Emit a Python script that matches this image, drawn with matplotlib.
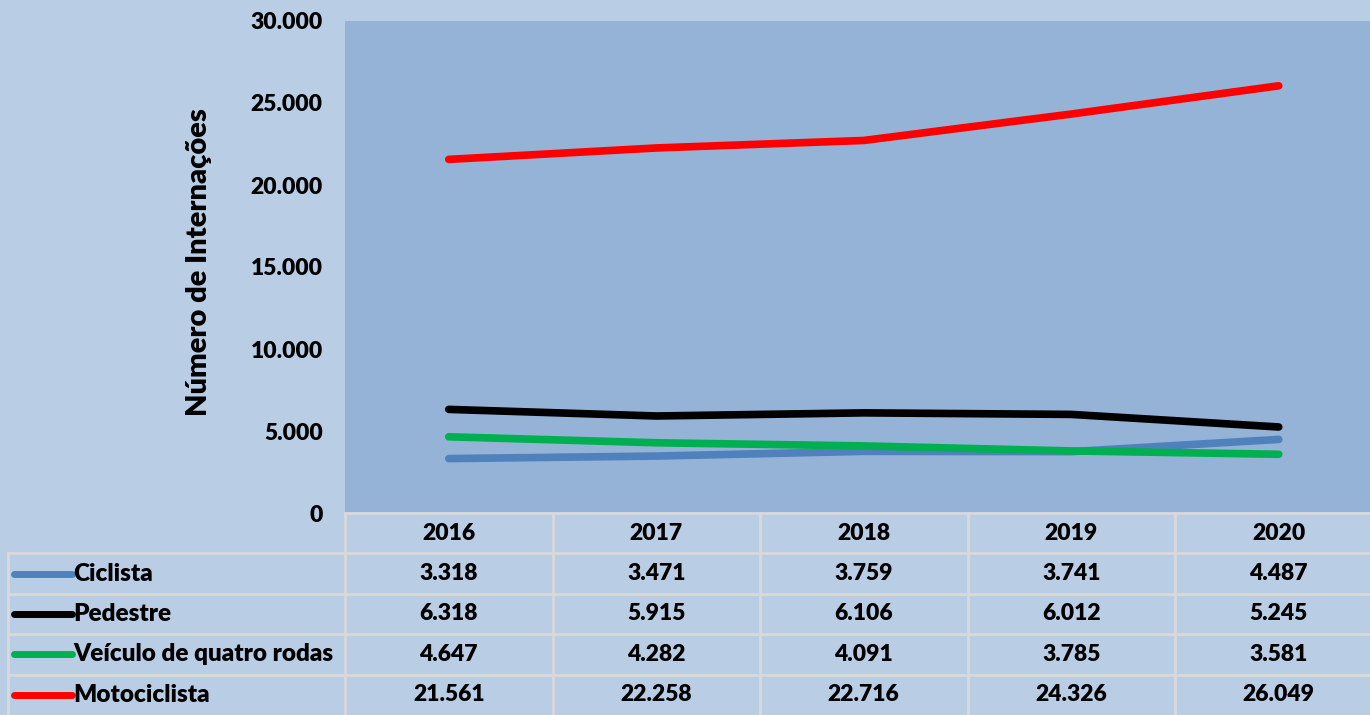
import matplotlib
matplotlib.use("Agg")
import matplotlib.pyplot as plt
import numpy as np

years = ["2016", "2017", "2018", "2019", "2020"]
series_names = ["Ciclista", "Pedestre", "Veículo de quatro rodas", "Motociclista"]
ciclista = [3318, 3471, 3759, 3741, 4487]
pedestre = [6318, 5915, 6106, 6012, 5245]
veiculo = [4647, 4282, 4091, 3785, 3581]
motociclista = [21561, 22258, 22716, 24326, 26049]
colors = ["#4f81bd", "#000000", "#00b050", "#ff0000"]
yticks = [0, 5000, 10000, 15000, 20000, 25000, 30000]

series = [ciclista, pedestre, veiculo, motociclista]

def fmt(v):
    return f"{v:,}".replace(",", ".")

plt.rcParams['font.family'] = ['Lato', 'DejaVu Sans']
plt.rcParams['font.weight'] = 'bold'

W, H = 1370, 715
fig = plt.figure(figsize=(W / 100, H / 100), dpi=100)
fig.patch.set_facecolor("#b9cde5")

NUM_FS = 16.5
NAME_FS = 17.5

colw = 207.5
left_px, top_px, bot_px = 345, 21, 513
ax = fig.add_axes([left_px / W, (H - bot_px) / H, 5 * colw / W, (bot_px - top_px) / H])
ax.set_facecolor("#95b3d7")
x = np.arange(len(years))
for s, c in zip(series, colors):
    ax.plot(x, s, color=c, lw=5.5, solid_capstyle="round", solid_joinstyle="round")
ax.set_xlim(-0.5, len(years) - 0.5)
ax.set_ylim(0, 30000)
ax.set_yticks(yticks)
ax.set_yticklabels([fmt(v) for v in yticks], fontsize=NUM_FS, fontweight="heavy")
ax.set_xticks([])
ax.tick_params(axis="y", length=0, pad=16)
for sp in ax.spines.values():
    sp.set_visible(False)
ax.set_ylabel("Número de Internações", fontsize=21, fontweight="heavy")
ax.yaxis.set_label_coords(-0.128, 0.51)

# data table axes
tleft = 8
tab = fig.add_axes([tleft / W, 0, (left_px + 5 * colw - tleft) / W, (H - bot_px) / H])
tab.set_facecolor("none")
xl = -0.5 - (left_px - tleft) / colw
tab.set_xlim(xl, len(years) - 0.5)
nrows = len(series) + 1
tab.set_ylim(nrows - 0.5, -0.5)
tab.axis("off")
gc = "#d9d9d9"
glw = 2
tab.plot([-0.5, len(years) - 0.5], [-0.5, -0.5], color=gc, lw=glw, clip_on=False)
for r in range(1, nrows):
    tab.plot([xl, len(years) - 0.5], [r - 0.5, r - 0.5], color=gc, lw=glw, clip_on=False)
tab.plot([xl, xl], [0.5, nrows - 0.5], color=gc, lw=glw, clip_on=False)
for i in range(len(years) + 1):
    tab.plot([i - 0.5, i - 0.5], [-0.5, nrows - 0.5], color=gc, lw=glw, clip_on=False)
for i, yv in enumerate(years):
    tab.text(i, 0, yv, ha="center", va="center", fontsize=NUM_FS, fontweight="heavy")
kx0 = xl + 6 / colw
kx1 = xl + 64 / colw
for r, (name, s, c) in enumerate(zip(series_names, series, colors), start=1):
    tab.plot([kx0, kx1], [r, r], color=c, lw=5, solid_capstyle="round")
    tab.text(kx1 + 1 / colw, r, name, ha="left", va="center", fontsize=NAME_FS, fontweight="heavy")
    for i, v in enumerate(s):
        tab.text(i, r, fmt(v), ha="center", va="center", fontsize=NUM_FS, fontweight="heavy")

fig.savefig("out.png", dpi=100, facecolor=fig.get_facecolor())
